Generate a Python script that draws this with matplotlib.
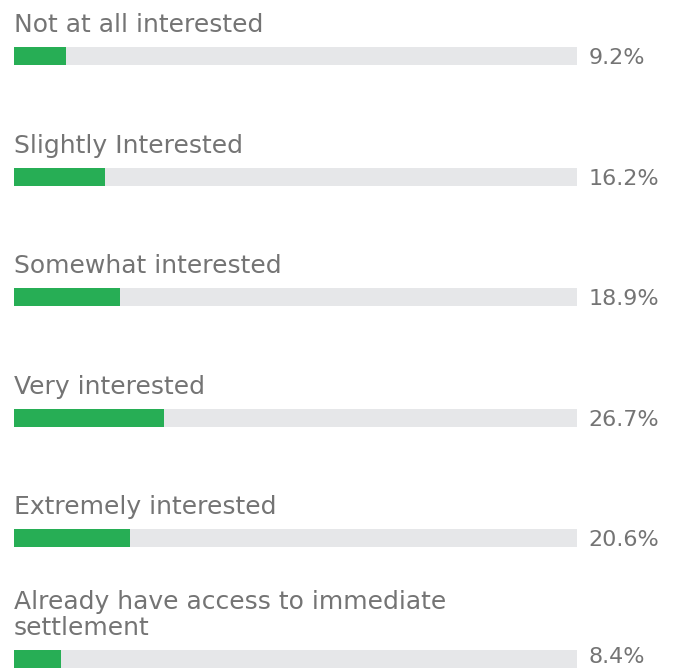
import matplotlib
matplotlib.use('Agg')
import matplotlib.pyplot as plt

categories = ['Not at all interested', 'Slightly Interested', 'Somewhat interested',
              'Very interested', 'Extremely interested',
              'Already have access to immediate\nsettlement']
values = [9.2, 16.2, 18.9, 26.7, 20.6, 8.4]

green = '#27ae55'
track = '#e6e7e9'
txt = '#747474'

W, H = 676, 669
fig = plt.figure(figsize=(W / 100, H / 100), dpi=100)
# axes spans the grey track horizontally, full height in pixel units vertically
ax = fig.add_axes([14 / W, 0, 563 / W, 1])
ax.set_xlim(0, 100)
ax.set_ylim(H, 0)
ax.axis('off')

plt.rcParams['font.family'] = ['DejaVu Sans']

for i, (cat, v) in enumerate(zip(categories, values)):
    yc = 56 + i * 120.6
    ax.barh(yc, 100, height=18, color=track, left=0, clip_on=False)
    ax.barh(yc, v, height=18, color=green, left=0, clip_on=False)
    ax.text(0, yc - 24, cat, fontsize=18, color=txt, va='baseline', ha='left',
            linespacing=1.08, clip_on=False)
    ax.text(102, min(yc + 8, 663), f'{v}%', fontsize=16, color=txt, va='baseline', ha='left',
            clip_on=False)

fig.savefig('out.png', dpi=100)
